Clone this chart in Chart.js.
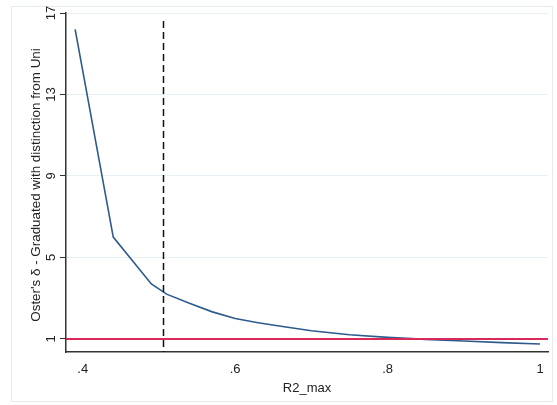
<!DOCTYPE html>
<html>
<head>
<meta charset="utf-8">
<script src="https://cdn.jsdelivr.net/npm/chart.js@4"></script>
<style>
  html, body { margin: 0; padding: 0; background: #fff; }
  #wrap { width: 557px; height: 405px; }
</style>
</head>
<body>
<div id="wrap"><canvas id="myChart" width="557" height="405"></canvas></div>
<script>
// values
var r2Max = [0.39, 0.44, 0.49, 0.51, 0.54, 0.57, 0.60, 0.63, 0.66, 0.70, 0.75, 0.80, 0.85, 0.90, 0.95, 1.00];
var delta = [16.2, 6.0, 3.7, 3.2, 2.75, 2.33, 2.0, 1.80, 1.62, 1.40, 1.21, 1.08, 0.98, 0.90, 0.82, 0.75];
var xTicks = [0.4, 0.6, 0.8, 1];
var yTicks = [1, 5, 9, 13, 17];
var cutoffX = 0.505;
var refY = 1;
var yTitle = "Oster's δ - Graduated with distinction from Uni";

var points = r2Max.map(function (x, i) { return { x: x, y: delta[i] }; });
var font = "13px 'Liberation Sans', Arial, sans-serif";

var fmtX = function (v) {
  if (v === 1) return "1";
  return String(Math.round(v * 10) / 10).replace(/^0/, "");
};

var frame = {
  id: "frame",
  beforeDraw: function (chart) {
    var ctx = chart.ctx;
    ctx.save();
    ctx.strokeStyle = "#e6ecee";
    ctx.lineWidth = 1;
    ctx.strokeRect(11.5, 6.5, 541, 395);
    ctx.restore();
  },
  afterDatasetsDraw: function (chart) {
    var ctx = chart.ctx;
    var xs = chart.scales.x, ys = chart.scales.y;
    var a = chart.chartArea;
    ctx.save();
    // reference line at delta = 1
    var py = ys.getPixelForValue(refY);
    ctx.strokeStyle = "#d9285a";
    ctx.lineWidth = 2;
    ctx.beginPath();
    ctx.moveTo(a.left, py);
    ctx.lineTo(a.right, py);
    ctx.stroke();
    // dashed cutoff
    var px = Math.round(xs.getPixelForValue(cutoffX)) + 0.5;
    ctx.strokeStyle = "#111";
    ctx.lineWidth = 1.5;
    ctx.setLineDash([7, 4]);
    ctx.beginPath();
    ctx.moveTo(px, a.top + 8);
    ctx.lineTo(px, a.bottom);
    ctx.stroke();
    ctx.setLineDash([]);
    // rotated y tick labels and y title
    ctx.fillStyle = "#222";
    ctx.font = font;
    ctx.textAlign = "center";
    ctx.textBaseline = "middle";
    yTicks.forEach(function (v) {
      var ty = ys.getPixelForValue(v);
      ctx.save();
      ctx.translate(51, ty);
      ctx.rotate(-Math.PI / 2);
      ctx.fillText(String(v), 0, 0);
      ctx.restore();
    });
    ctx.save();
    ctx.translate(36, 185);
    ctx.rotate(-Math.PI / 2);
    ctx.font = "13.4px 'Liberation Sans', Arial, sans-serif";
    ctx.fillText(yTitle, 0, 0);
    ctx.restore();
    ctx.restore();
  }
};

new Chart("myChart", {
  type: "scatter",
  data: {
    datasets: [{
      data: points,
      showLine: true,
      borderColor: "#2c5b8c",
      borderWidth: 1.6,
      pointRadius: 0,
      tension: 0
    }]
  },
  options: {
    responsive: false,
    animation: false,
    layout: { padding: { left: 0, right: 9, top: 13, bottom: 0 } },
    plugins: { legend: { display: false }, tooltip: { enabled: false } },
    scales: {
      x: {
        type: "linear",
        min: 0.378,
        max: 1.0105,
        afterBuildTicks: function (s) { s.ticks = xTicks.map(function (v) { return { value: v }; }); },
        afterFit: function (s) { s.height = 53; },
        ticks: {
          callback: fmtX,
          color: "#222",
          font: { family: "Liberation Sans, Arial", size: 13 },
          padding: 4,
          maxRotation: 0
        },
        grid: { display: false, drawOnChartArea: false, tickLength: 6, tickColor: "#333" },
        border: { color: "#333", width: 1.5 },
        title: {
          display: true,
          text: "R2_max",
          color: "#222",
          font: { family: "Liberation Sans, Arial", size: 13 },
          padding: { top: 0, bottom: 9 }
        }
      },
      y: {
        min: 0.36,
        max: 17,
        afterBuildTicks: function (s) { s.ticks = yTicks.map(function (v) { return { value: v }; }); },
        afterFit: function (s) { s.width = 66; },
        ticks: { display: false },
        grid: { color: "#e7f0f2", lineWidth: 1, tickLength: 6, tickColor: "#333", drawTicks: true },
        border: { color: "#333", width: 1.5 }
      }
    }
  },
  plugins: [frame]
});
</script>
</body>
</html>
